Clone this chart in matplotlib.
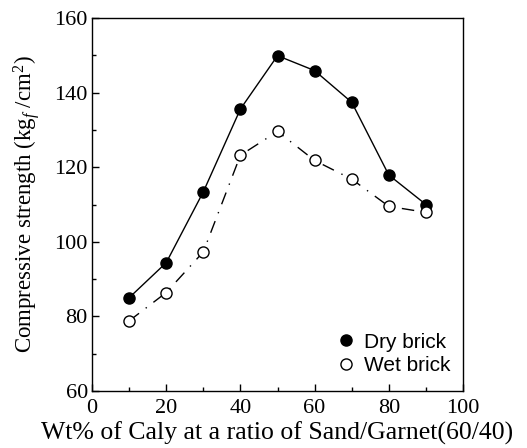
import matplotlib
matplotlib.use("Agg")
import matplotlib.pyplot as plt
from matplotlib.ticker import MultipleLocator

plt.rcParams['font.family'] = ['Liberation Serif', 'DejaVu Serif']
plt.rcParams['mathtext.fontset'] = 'custom'
plt.rcParams['mathtext.rm'] = 'Liberation Serif'
plt.rcParams['mathtext.it'] = 'Liberation Serif:italic'

clay_wt = [10, 20, 30, 40, 50, 60, 70, 80, 90]
dry_brick = [85.0, 94.4, 113.4, 135.6, 149.9, 145.9, 137.4, 117.9, 110.0]
wet_brick = [78.8, 86.4, 97.3, 123.2, 129.6, 121.8, 116.8, 109.5, 107.9]

fig = plt.figure(figsize=(5.27, 4.48), dpi=100)
ax = fig.add_axes([0.1746, 0.1272, 0.704, 0.8326])

ax.plot(clay_wt, dry_brick, '-', color='black', lw=1.0, marker='o', ms=8,
        mfc='black', mec='black', label='Dry brick')
ax.plot(clay_wt, wet_brick, color='black', lw=1.0, linestyle=(0, (9, 6, 1, 6)),
        marker='o', ms=8, mfc='white', mec='black', mew=1.0, label='Wet brick')

ax.set_xlim(0, 100)
ax.set_ylim(60, 160)
ax.xaxis.set_major_locator(MultipleLocator(20))
ax.xaxis.set_minor_locator(MultipleLocator(10))
ax.yaxis.set_major_locator(MultipleLocator(20))
ax.yaxis.set_minor_locator(MultipleLocator(10))
ax.tick_params(which='both', direction='in', top=False, right=False, labelsize=16)
ax.tick_params(which='major', length=5, width=1)
ax.tick_params(which='minor', length=3, width=1)
ax.tick_params(axis='x', pad=6)
ax.tick_params(axis='y', pad=3)
for s in ax.spines.values():
    s.set_linewidth(1.0)

ax.set_xlabel('Wt% of Caly at a ratio of Sand/Garnet(60/40)', fontsize=18.5, labelpad=2)
ax.set_ylabel('Compressive strength (kg$_f$ /cm$^2$)', fontsize=16.5, labelpad=9)

leg = ax.legend(loc='lower right', frameon=False, prop={'family': 'Liberation Sans', 'size': 15},
                handlelength=0, handletextpad=0.9, labelspacing=0.22,
                borderaxespad=0.0, bbox_to_anchor=(0.99, 0.02))

fig.savefig('out.png', dpi=100)
